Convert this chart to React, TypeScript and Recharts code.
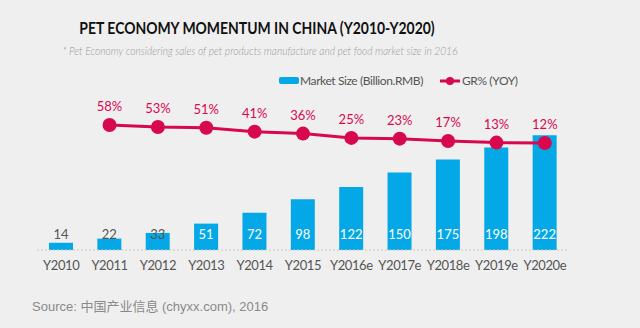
import { Bar, ComposedChart, LabelList, Line, XAxis, YAxis } from "recharts";

const years = ["Y2010", "Y2011", "Y2012", "Y2013", "Y2014", "Y2015", "Y2016e", "Y2017e", "Y2018e", "Y2019e", "Y2020e"];
const marketSize = [14, 22, 33, 51, 72, 98, 122, 150, 175, 198, 222];
const growthRate = [null, 58, 53, 51, 41, 36, 25, 23, 17, 13, 12];

const BLUE = "#05a8e6";
const RED = "#d8084f";
const FONT = "Lato, 'Noto Sans CJK SC', sans-serif";

const data = years.map((year, i) => ({ year, size: marketSize[i], gr: growthRate[i] }));

function SizeLabel(props: any) {
  const { x, y, width, height, value } = props;
  const base = y + height;
  const inside = height > 22;
  return (
    <text x={x + width / 2} y={base - 14} textAnchor="middle" dominantBaseline="middle" fontSize={13} fontFamily={FONT} fill={inside ? "#ffffff" : "#555555"}>
      {value}
    </text>
  );
}

export default function App() {
  return (
    <div style={{ position: "absolute", left: 0, top: 0, width: 640, height: 328, background: "#efefef", fontFamily: FONT, overflow: "hidden" }}>
      <div style={{ position: "absolute", top: 17, left: 0, width: 514, textAlign: "center", fontSize: 17, fontWeight: 700, color: "#111", transform: "scaleX(0.82)", transformOrigin: "257px 0" }}>
        PET ECONOMY MOMENTUM IN CHINA (Y2010-Y2020)
      </div>
      <div style={{ position: "absolute", top: 44, left: 0, width: 520, textAlign: "center", fontSize: 11.5, fontStyle: "italic", fontWeight: 300, color: "#9a9a9a", transform: "scaleX(0.89)", transformOrigin: "260px 0" }}>
        * Pet Economy considering sales of pet products manufacture and pet food market size in 2016
      </div>
      <div style={{ position: "absolute", top: 73, left: 279, display: "flex", alignItems: "center", fontSize: 12, letterSpacing: -0.4, color: "#555", whiteSpace: "nowrap" }}>
        <span style={{ display: "inline-block", width: 20, height: 7, background: BLUE, borderRadius: 2, marginRight: 1 }} />
        <span>Market Size (Billion.RMB)</span>
        <svg width={20} height={10} style={{ marginLeft: 17, marginRight: 2 }}>
          <line x1={0} y1={5} x2={20} y2={5} stroke={RED} strokeWidth={3} />
          <circle cx={10} cy={5} r={4} fill={RED} />
        </svg>
        <span>GR% (YOY)</span>
      </div>
      <ComposedChart width={640} height={328} data={data} margin={{ top: 100, right: 71, bottom: 48, left: 37 }} style={{ position: "absolute", left: 0, top: 0 }}>
        <XAxis
          dataKey="year"
          height={30}
          tickLine={false}
          tickMargin={5}
          axisLine={{ stroke: "#c8c8c8", strokeDasharray: "2 2" }}
          tick={{ fontSize: 13, fill: "#555", fontFamily: FONT, letterSpacing: -0.4 }}
          interval={0}
        />
        <YAxis yAxisId="left" hide domain={[0, 290]} />
        <YAxis yAxisId="right" orientation="right" hide domain={[-262, 122]} />
        <Bar yAxisId="left" dataKey="size" fill={BLUE} barSize={24} isAnimationActive={false}>
          <LabelList dataKey="size" content={SizeLabel} />
        </Bar>
        <Line
          yAxisId="right"
          dataKey="gr"
          stroke={RED}
          strokeWidth={3}
          dot={{ r: 7, fill: RED, stroke: "none" }}
          activeDot={false}
          isAnimationActive={false}
        >
          <LabelList dataKey="gr" position="top" offset={14} fill={RED} fontSize={13} fontFamily={FONT} formatter={(v: any) => `${v}%`} />
        </Line>
      </ComposedChart>
      <div style={{ position: "absolute", top: 296, left: 32, fontSize: 13, color: "#8a8a8a", fontFamily: "'Liberation Sans', Arial, 'Noto Sans CJK SC', sans-serif" }}>
        Source: 中国产业信息 (chyxx.com), 2016
      </div>
    </div>
  );
}
